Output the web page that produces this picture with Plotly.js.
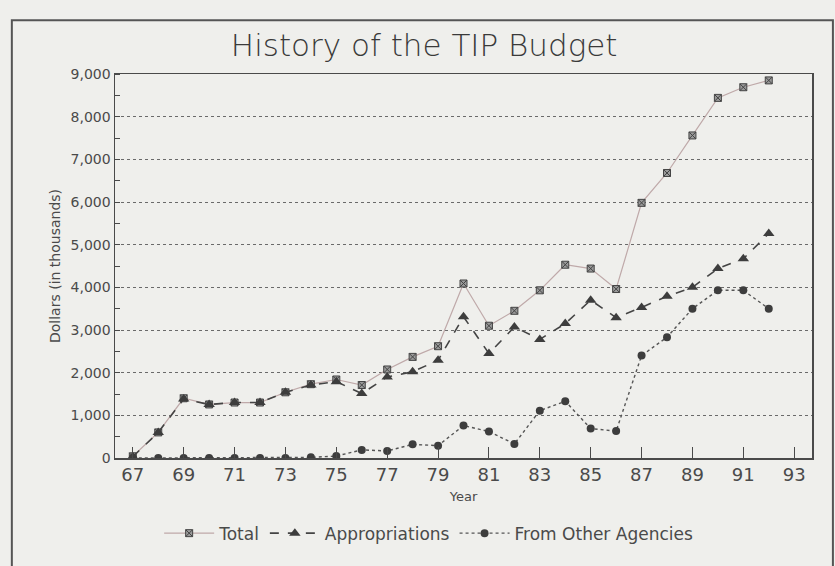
<!DOCTYPE html>
<html>
<head>
<meta charset="utf-8">
<script src="https://cdn.plot.ly/plotly-3.0.1.min.js"></script>
<style>html,body{margin:0;padding:0;background:#efefec;}</style>
</head>
<body>
<div id="chart" style="width:835px;height:566px;"></div>
<script>
const years = [67,68,69,70,71,72,73,74,75,76,77,78,79,80,81,82,83,84,85,86,87,88,89,90,91,92];
const total = [40,600,1400,1255,1300,1300,1540,1730,1840,1710,2075,2370,2620,4090,3100,3450,3930,4530,4440,3960,5980,6680,7560,8440,8690,8850];
const appropriations = [30,600,1380,1255,1300,1300,1540,1710,1790,1510,1900,2020,2290,3310,2450,3070,2780,3150,3700,3290,3530,3790,4000,4440,4670,5260];
const otherAgencies = [0,0,0,0,0,0,0,15,45,190,165,320,290,760,620,330,1110,1330,690,630,2400,2830,3500,3930,3930,3500];
const xTicks = [67,69,71,73,75,77,79,81,83,85,87,89,91,93];
const yTicks = [0,1000,2000,3000,4000,5000,6000,7000,8000,9000];
const yTickText = ["0","1,000","2,000","3,000","4,000","5,000","6,000","7,000","8,000","9,000"];

const FONT = "'DejaVu Sans', 'Liberation Sans', sans-serif";
const INK = "#4a4a4a";

const traces = [
  {x: years, y: total, name: "Total", mode: "lines+markers",
   line: {color: "#bfa9a9", width: 1.2},
   marker: {symbol: "square-x", size: 7, color: "#9a9a9a", line: {color: "#444", width: 1}}},
  {x: years, y: appropriations, name: "Appropriations", mode: "lines+markers",
   line: {color: "#444", width: 1.6, dash: "dash"},
   marker: {symbol: "triangle-up", size: 10, color: "#3d3d3d"}},
  {x: years, y: otherAgencies, name: "From Other Agencies", mode: "lines+markers",
   line: {color: "#555", width: 1.4, dash: "dot"},
   marker: {symbol: "circle", size: 8, color: "#3d3d3d"}}
];

const layout = {
  width: 835, height: 566,
  paper_bgcolor: "#efefec", plot_bgcolor: "#efefec",
  margin: {l: 115, r: 23, t: 74, b: 108},
  font: {family: FONT, color: INK},
  title: {text: "History of the TIP Budget", x: 0.508, xanchor: "center", y: 0.92, yanchor: "middle",
          font: {family: FONT, size: 31, color: "#3a3a3a", weight: 300}},
  xaxis: {range: [66.3, 93.7], tickvals: xTicks, ticktext: xTicks.map(String),
          ticks: "inside", ticklen: 11, tickcolor: INK, tickwidth: 1,
          showgrid: false, zeroline: false, showline: true, linecolor: INK, linewidth: 1.5, mirror: true,
          tickfont: {size: 18, color: INK},
          title: {text: "Year", font: {size: 13, color: INK}, standoff: 8}},
  yaxis: {range: [0, 9000], tickvals: yTicks, ticktext: yTickText,
          ticks: "", showgrid: true, gridcolor: "#6a6a6a", griddash: "dot", gridwidth: 1,
          minor: {dtick: 500, ticks: "inside", ticklen: 5, tickcolor: INK, showgrid: false},
          zeroline: false, showline: true, linecolor: INK, linewidth: 1.5, mirror: true,
          tickfont: {size: 14, color: INK},
          title: {text: "Dollars (in thousands)", font: {size: 14, color: INK}, standoff: 6}},
  legend: {orientation: "h", x: 0.45, xanchor: "center", y: -0.15, yanchor: "top",
           font: {size: 17, color: INK}, bgcolor: "rgba(0,0,0,0)", itemwidth: 50},
  showlegend: true,
  shapes: [{type: "rect", xref: "paper", yref: "paper", x0: -0.148, x1: 1.03, y0: -0.3, y1: 1.14,
            line: {color: "#555", width: 2}, fillcolor: "rgba(0,0,0,0)", layer: "below"}]
};

Plotly.newPlot("chart", traces, layout, {displayModeBar: false, staticPlot: true});
</script>
</body>
</html>
